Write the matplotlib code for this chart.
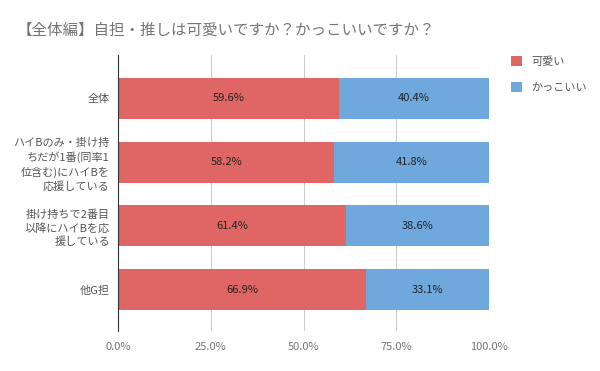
import matplotlib.pyplot as plt
from matplotlib.ticker import FuncFormatter

plt.rcParams['font.family'] = ['Noto Sans CJK JP', 'DejaVu Sans']

# データ
categories = [
    "全体",
    "ハイBのみ・掛け持\nちだが1番(同率1\n位含む)にハイBを\n応援している",
    "掛け持ちで2番目\n以降にハイBを応\n援している",
    "他G担",
]
kawaii = [59.6, 58.2, 61.4, 66.9]
kakkoii = [40.4, 41.8, 38.6, 33.1]
series_names = ["可愛い", "かっこいい"]
colors = ["#e06666", "#6fa8dc"]
xticks = [0, 25, 50, 75, 100]

fig = plt.figure(figsize=(6, 3.71), dpi=100)
ax = fig.add_axes([0.197, 0.108, 0.618, 0.745])

y = list(range(len(categories)))
b1 = ax.barh(y, kawaii, height=0.644, color=colors[0], label=series_names[0], zorder=2)
b2 = ax.barh(y, kakkoii, left=kawaii, height=0.644, color=colors[1], label=series_names[1], zorder=2)

for bars, vals in ((b1, kawaii), (b2, kakkoii)):
    for bar, v in zip(bars, vals):
        ax.text(bar.get_x() + bar.get_width() / 2, bar.get_y() + bar.get_height() / 2,
                f"{v:.1f}%", ha="center", va="center", fontsize=8, color="#222222")

ax.set_xlim(0, 100)
ax.set_ylim(3.65, -0.69)
ax.set_yticks(y)
ax.set_yticklabels(categories, fontsize=8, color="#555555", linespacing=1.35)
ax.set_xticks(xticks)
ax.xaxis.set_major_formatter(FuncFormatter(lambda v, p: f"{v:.1f}%"))
ax.tick_params(axis="x", colors="#757575", labelsize=8, length=0, pad=8)
ax.tick_params(axis="y", length=0, pad=6)
ax.grid(axis="x", color="#cccccc", linewidth=0.8, zorder=0)
for s in ["top", "right", "bottom"]:
    ax.spines[s].set_visible(False)
ax.spines["left"].set_color("#333333")
ax.spines["left"].set_zorder(3)

fig.text(0.028, 0.918, "【全体編】自担・推しは可愛いですか？かっこいいですか？",
         fontsize=11.2, color="#757575", va="center")

fig.legend(loc="upper left", bbox_to_anchor=(0.835, 0.875), frameon=False,
           fontsize=8, handlelength=1, handleheight=1, labelspacing=1.35,
           labelcolor="#555555")

fig.savefig("out.png", dpi=100)
